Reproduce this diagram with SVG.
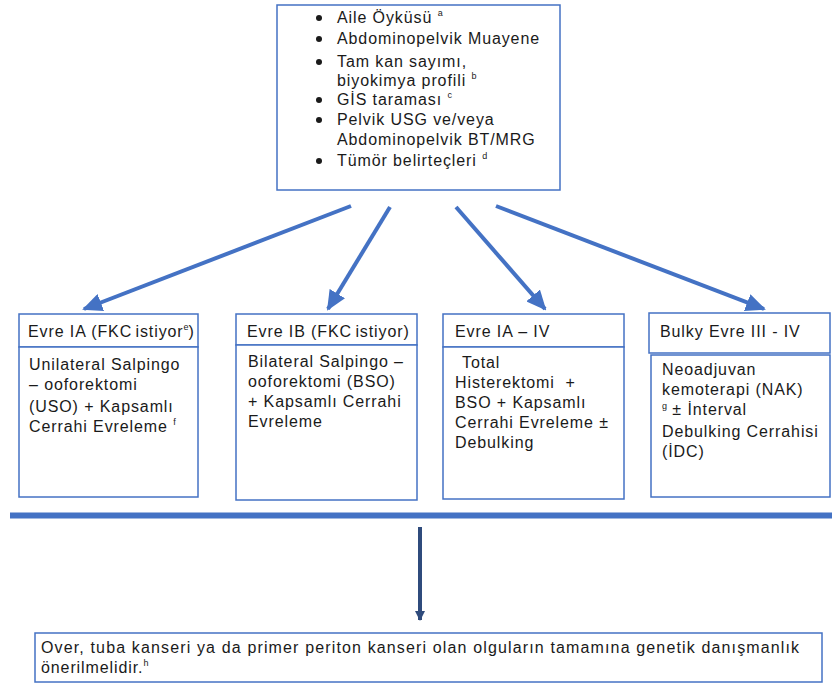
<svg xmlns="http://www.w3.org/2000/svg" width="832" height="684" viewBox="0 0 832 684">
  <defs>
    <marker id="head" markerUnits="userSpaceOnUse" markerWidth="20" markerHeight="18" viewBox="0 0 20 18" refX="18" refY="9" orient="auto">
      <path d="M0,0 L20,9 L0,18 Z" fill="#4472C4"/>
    </marker>
    <marker id="headDark" markerUnits="userSpaceOnUse" markerWidth="10" markerHeight="10" viewBox="0 0 10 10" refX="9" refY="5" orient="auto">
      <path d="M0,0 L10,5 L0,10 Z" fill="#2F4B7C"/>
    </marker>
    <style>
      .box { fill: #ffffff; stroke: #4472C4; stroke-width: 1.5; }
      .t { font-family: "Liberation Sans", Arial, sans-serif; font-size: 16px; letter-spacing: 0.9px; fill: #1a1a1a; }
      .sup { font-size: 9px; letter-spacing: 0; }
      .conn { stroke: #4472C4; stroke-width: 4; fill: none; }
    </style>
  </defs>

  <rect width="832" height="684" fill="#ffffff"/>

  <!-- initial work-up -->
  <g id="workup">
    <rect class="box" x="277" y="5" width="283" height="185"/>
    <g fill="#1a1a1a">
      <circle cx="319" cy="18" r="3"/>
      <circle cx="319" cy="39" r="3"/>
      <circle cx="319" cy="62" r="3"/>
      <circle cx="319" cy="100" r="3"/>
      <circle cx="319" cy="120" r="3"/>
      <circle cx="319" cy="161" r="3"/>
    </g>
    <text class="t" x="337" y="23">Aile Öyküsü <tspan class="sup" dy="-7">a</tspan></text>
    <text class="t" x="337" y="44">Abdominopelvik Muayene</text>
    <text class="t" x="337" y="67">Tam kan sayımı,</text>
    <text class="t" x="337" y="86">biyokimya profili <tspan class="sup" dy="-7">b</tspan></text>
    <text class="t" x="337" y="105">GİS taraması <tspan class="sup" dy="-7">c</tspan></text>
    <text class="t" x="337" y="125">Pelvik USG ve/veya</text>
    <text class="t" x="337" y="145">Abdominopelvik BT/MRG</text>
    <text class="t" x="337" y="166">Tümör belirteçleri <tspan class="sup" dy="-7">d</tspan></text>
  </g>

  <!-- stage IA, fertility sparing -->
  <g id="stage-ia">
    <rect class="box" x="19" y="314" width="179" height="33"/>
    <rect class="box" x="19" y="347" width="179" height="150"/>
    <text class="t" x="28" y="337">Evre IA (FKC<tspan dx="-2"> istiyor</tspan><tspan class="sup" dy="-7">e</tspan><tspan dy="7">)</tspan></text>
    <text class="t" x="29" y="370">Unilateral Salpingo</text>
    <text class="t" x="29" y="390">– ooforektomi</text>
    <text class="t" x="29" y="412">(USO) + Kapsamlı</text>
    <text class="t" x="29" y="432">Cerrahi Evreleme <tspan class="sup" dy="-7">f</tspan></text>
  </g>

  <!-- stage IB, fertility sparing -->
  <g id="stage-ib">
    <rect class="box" x="236" y="314" width="181" height="31"/>
    <rect class="box" x="236" y="345" width="181" height="155"/>
    <text class="t" x="247" y="337">Evre IB (FKC<tspan dx="-2"> istiyor)</tspan></text>
    <text class="t" x="248" y="367">Bilateral Salpingo –</text>
    <text class="t" x="248" y="387">ooforektomi (BSO)</text>
    <text class="t" x="248" y="407">+ Kapsamlı Cerrahi</text>
    <text class="t" x="248" y="427">Evreleme</text>
  </g>

  <!-- stage IA-IV -->
  <g id="stage-ia-iv">
    <rect class="box" x="443" y="314" width="181" height="33"/>
    <rect class="box" x="443" y="347" width="181" height="152"/>
    <text class="t" x="455" y="337">Evre IA – IV</text>
    <text class="t" x="462" y="368">Total</text>
    <text class="t" x="455" y="388">Histerektomi &#160;+</text>
    <text class="t" x="455" y="408">BSO + Kapsamlı</text>
    <text class="t" x="455" y="428">Cerrahi Evreleme ±</text>
    <text class="t" x="455" y="448">Debulking</text>
  </g>

  <!-- bulky stage III-IV -->
  <g id="bulky">
    <rect class="box" x="649" y="313" width="181" height="40"/>
    <rect class="box" x="651" y="355" width="179" height="142"/>
    <text class="t" x="660" y="337">Bulky Evre III - IV</text>
    <text class="t" x="662" y="375">Neoadjuvan</text>
    <text class="t" x="662" y="395">kemoterapi (NAK)</text>
    <text class="t" x="662" y="415"><tspan class="sup" dy="-6">g</tspan><tspan dy="6"> ± İnterval</tspan></text>
    <text class="t" x="662" y="437">Debulking Cerrahisi</text>
    <text class="t" x="662" y="457">(İDC)</text>
  </g>

  <!-- genetic counselling -->
  <g id="genetics">
    <rect class="box" x="35" y="633" width="787" height="49"/>
    <text class="t" x="41" y="653" textLength="759" lengthAdjust="spacing">Over, tuba kanseri ya da primer periton kanseri olan olguların tamamına genetik danışmanlık</text>
    <text class="t" x="41" y="673">önerilmelidir.<tspan class="sup" dy="-7">h</tspan></text>
  </g>

  <g id="connectors">
    <line class="conn" x1="351" y1="206" x2="84" y2="309" marker-end="url(#head)"/>
    <line class="conn" x1="390" y1="207" x2="328" y2="309" marker-end="url(#head)"/>
    <line class="conn" x1="456" y1="207" x2="545" y2="309" marker-end="url(#head)"/>
    <line class="conn" x1="496" y1="206" x2="764" y2="309" marker-end="url(#head)"/>
    <line x1="10" y1="515.5" x2="832" y2="515.5" stroke="#4472C4" stroke-width="6"/>
    <line x1="420" y1="527" x2="420" y2="620" stroke="#2F4B7C" stroke-width="4" marker-end="url(#headDark)"/>
  </g>
</svg>
